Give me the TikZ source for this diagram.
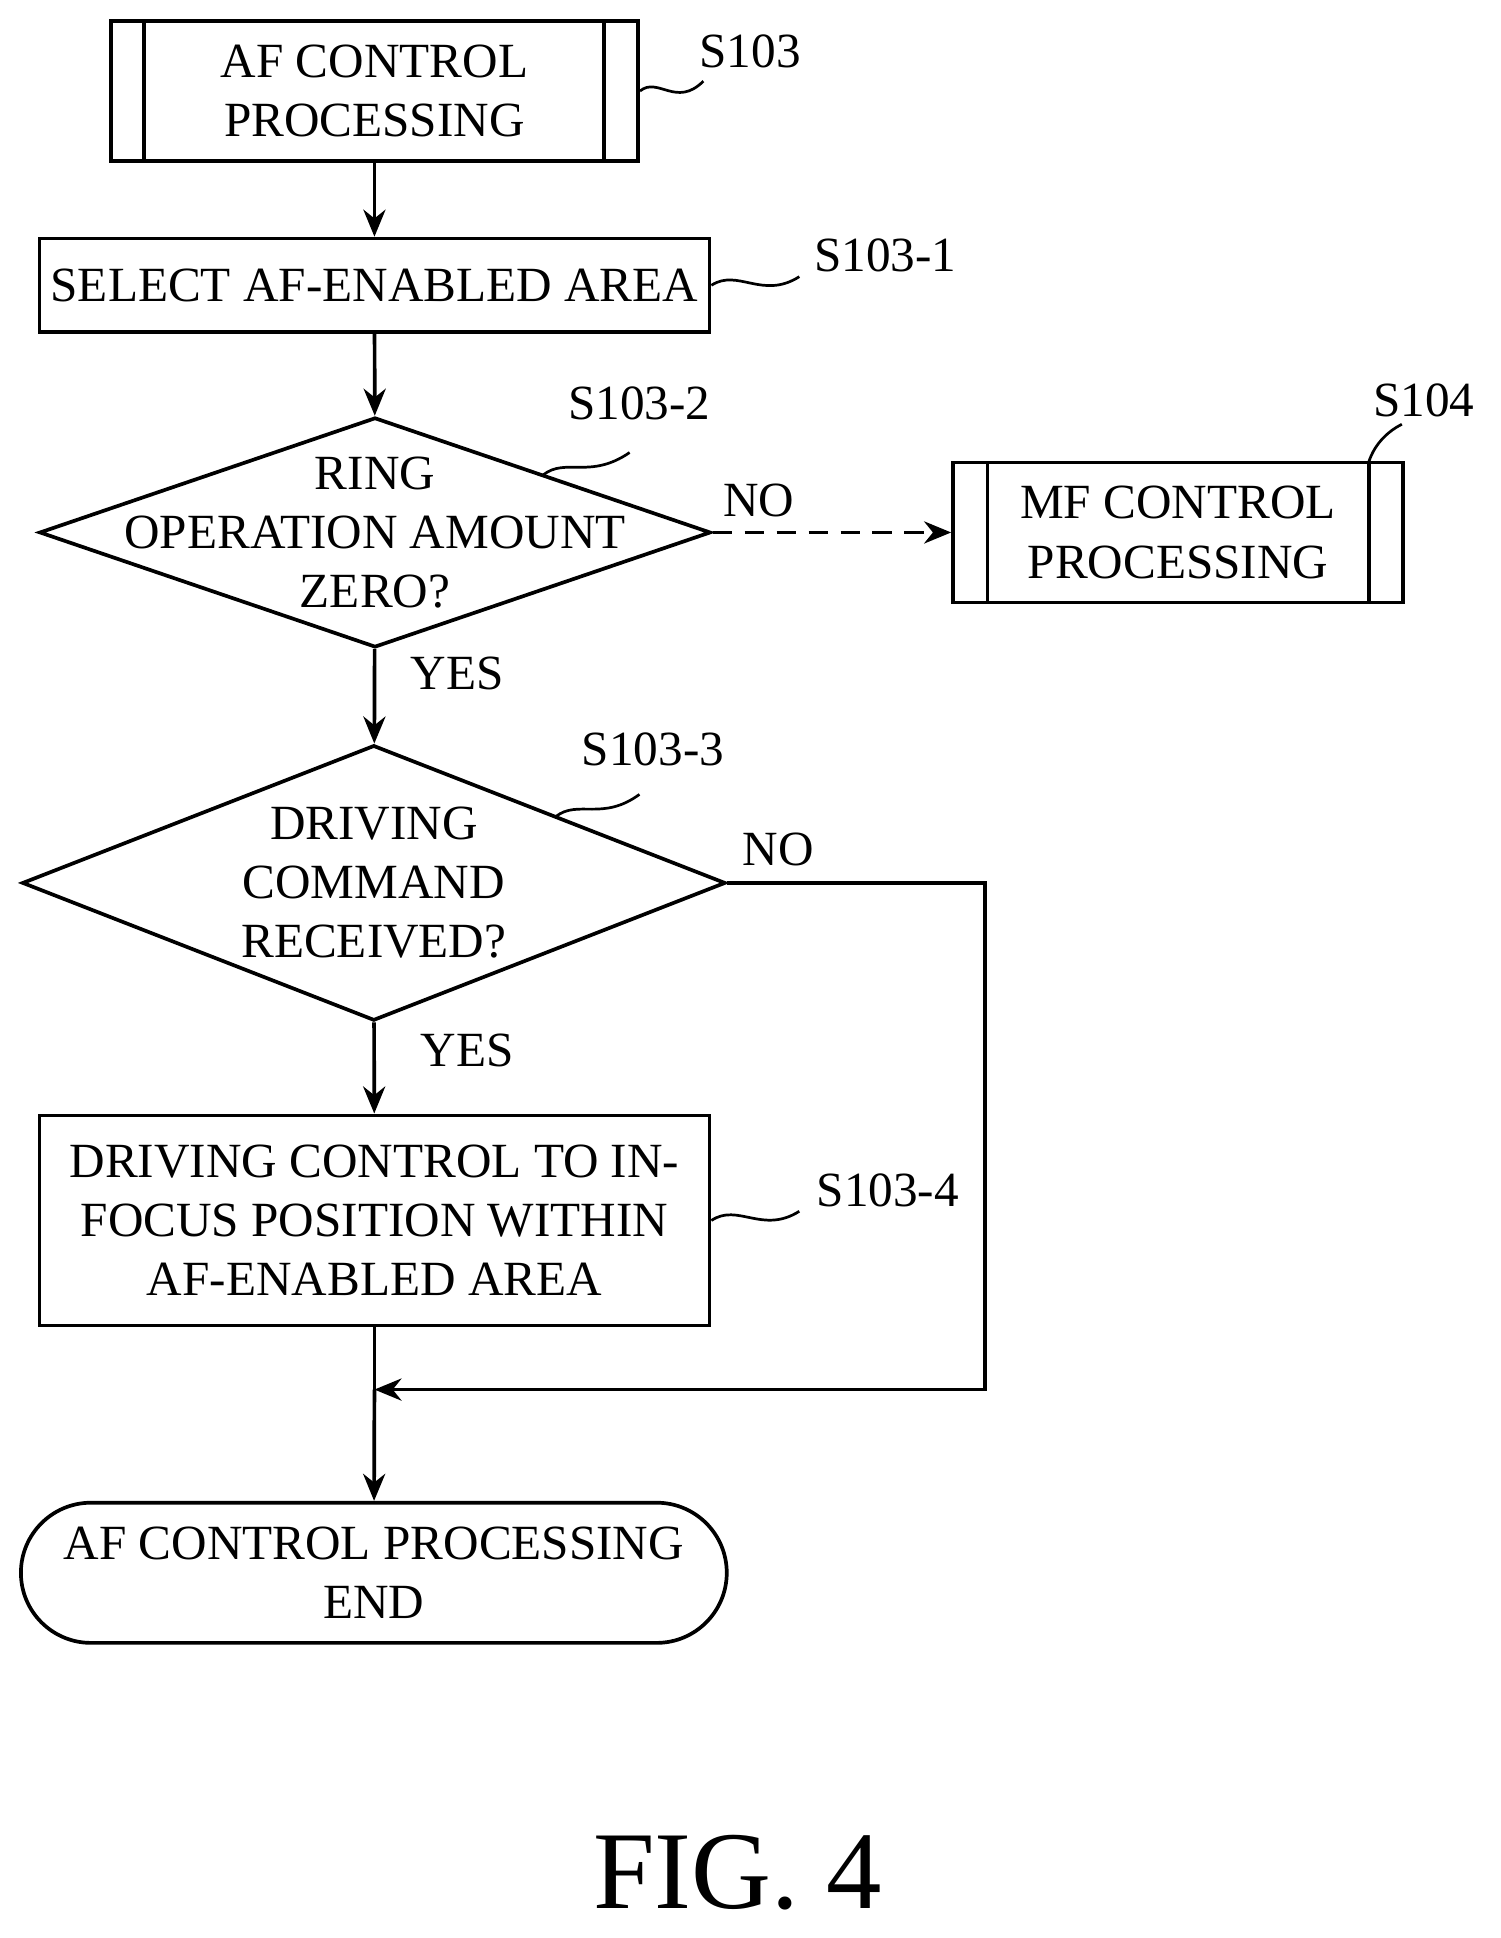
\documentclass[tikz,border=0pt]{standalone}
\usepackage{fontspec}
\setmainfont{Liberation Serif}
\usetikzlibrary{shapes.geometric,shapes.misc,arrows.meta}
\begin{document}
\begin{tikzpicture}[x=1pt,y=-1pt,line width=3pt,
  txt/.style={font=\fontsize{40}{48}\selectfont,align=center,inner sep=0pt},
  box/.style={draw,rectangle,inner sep=0pt,txt},
  dia/.style={draw,diamond,inner sep=0pt},
  arr/.style={-{Stealth[length=22pt,width=18pt]}},
  sq/.style={line width=2.2pt}]
\useasboundingbox (0,0) rectangle (1220,1576);
% S103
\node[box,minimum width=429pt,minimum height=114pt] (s103) at (304.5,74) {AF CONTROL\\PROCESSING};
\draw (117,17) -- (117,131) (491,17) -- (491,131);
\node[txt] (l103) at (610,42) {S103};
\draw[sq] (s103.east) .. controls (535,62) and (550,88) .. (572,66);
% S103-1
\node[box,minimum width=545pt,minimum height=76pt] (s1) at (304.5,232) {SELECT AF-ENABLED AREA};
\node[txt] (l1) at (720,208) {S103-1};
\draw[sq] (s1.east) .. controls (600,218) and (620,244) .. (650,225);
% diamond 1
\node[dia,minimum width=546pt,minimum height=187pt,aspect=2.92] (d1) at (305,433) {};
\node[txt] (t1) at (d1.center) {RING\\OPERATION AMOUNT\\ZERO?};
\node[txt] (l2) at (520,328) {S103-2};
\draw[sq] (442,386) .. controls (460,372) and (480,390) .. (512,368);
\node[txt] (no1) at (617,407) {NO};
% MF
\node[box,minimum width=366pt,minimum height=114pt] (mf) at (958,433) {MF CONTROL\\PROCESSING};
\draw (803,376) -- (803,490) (1113,376) -- (1113,490);
\node[txt] (l104) at (1158,326) {S104};
\draw[sq] (1113,376) .. controls (1118,360) and (1130,350) .. (1140,345);
\draw[arr,dash pattern=on 16pt off 10pt] (d1.east) -- (mf.west);
\node[txt] (y1) at (372,548) {YES};
% diamond 2
\node[dia,minimum width=572pt,minimum height=224pt,aspect=2.55] (d2) at (304,718) {};
\node[txt] (t2) at (d2.center) {DRIVING\\COMMAND\\RECEIVED?};
\node[txt] (l3) at (531,609) {S103-3};
\draw[sq] (452,664) .. controls (470,650) and (490,668) .. (520,646);
\node[txt] (no2) at (633,691) {NO};
\node[txt] (y2) at (380,854) {YES};
% box 4
\node[box,minimum width=545pt,minimum height=171pt] (s4) at (304.5,992.5) {DRIVING CONTROL TO IN-\\FOCUS POSITION WITHIN\\AF-ENABLED AREA};
\node[txt] (l4) at (722,968) {S103-4};
\draw[sq] (s4.east) .. controls (600,978) and (620,1004) .. (650,985);
% terminal
\node[draw,rounded rectangle,inner sep=0pt,minimum width=574pt,minimum height=114pt,txt] (end) at (304,1279) {AF CONTROL PROCESSING\\END};
\coordinate (j) at (304.5,1130);
\coordinate (r1) at (801,718);
\coordinate (r2) at (801,1130);
% arrows
\draw[arr] (s103) -- (s1);
\draw[arr] (s1) -- (d1);
\draw[arr] (d1) -- (d2);
\draw[arr] (d2) -- (s4);
\draw (s4.south) -- (j);
\draw[arr] (j) -- (end);
\draw[arr] (d2.east) -- (r1) -- (r2) -- (j);
\node[font=\fontsize{90}{96}\selectfont] (fig) at (600,1523) {FIG. 4};
\end{tikzpicture}
\end{document}
